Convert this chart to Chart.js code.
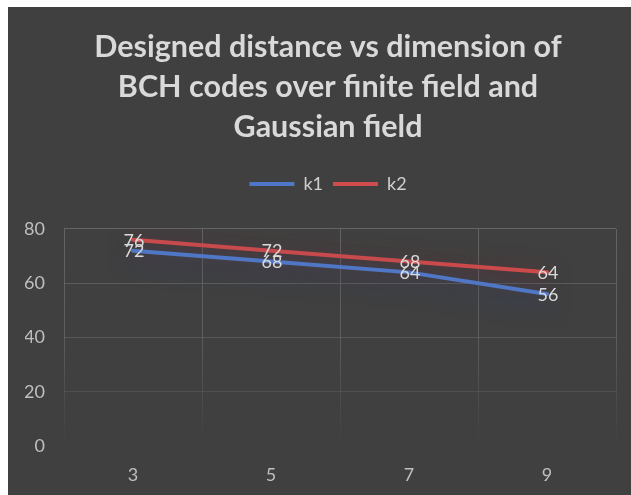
<!DOCTYPE html>
<html>
<head>
<meta charset="utf-8">
<script src="https://cdn.jsdelivr.net/npm/chart.js@4/dist/chart.umd.min.js"></script>
<style>
  body { margin: 0; background: #ffffff; }
  #box { position: absolute; left: 8px; top: 7px; width: 623px; height: 488px; background: #404040; }
</style>
</head>
<body>
<div id="box"><canvas id="myChart"></canvas></div>
<script>
// chart data
const categories = ['3', '5', '7', '9'];
const k1 = [72, 68, 64, 56];
const k2 = [76, 72, 68, 64];
const titleLines = ['Designed distance vs dimension of', 'BCH codes over finite field and', 'Gaussian field'];
const yTicks = [0, 20, 40, 60, 80];

const font = 'Lato';

// value labels drawn on each point
const valueLabels = {
    id: 'valueLabels',
    afterDatasetsDraw(chart) {
        const ctx = chart.ctx;
        ctx.save();
        ctx.font = '18px ' + font;
        ctx.fillStyle = '#d9d9d9';
        ctx.textAlign = 'center';
        ctx.textBaseline = 'middle';
        chart.data.datasets.forEach((ds, i) => {
            chart.getDatasetMeta(i).data.forEach((pt, j) => {
                ctx.fillText(ds.data[j], pt.x + 1, pt.y + 1);
            });
        });
        ctx.restore();
    }
};

// soft glow under the lines
const glow = {
    id: 'glow',
    beforeDatasetDraw(chart, args) {
        const ctx = chart.ctx;
        ctx.save();
        ctx.shadowColor = chart.data.datasets[args.index].glowColor;
        ctx.shadowBlur = 24;
        ctx.shadowOffsetY = 6;
    },
    afterDatasetDraw(chart) {
        chart.ctx.restore();
    }
};

// extra room under the legend
const legendSpace = {
    id: 'legendSpace',
    beforeInit(chart) {
        const fit = chart.legend.fit;
        chart.legend.fit = function () {
            fit.bind(chart.legend)();
            this.height += 26;
        };
    }
};

function fadeV(ctx) {
    const chart = ctx.chart;
    const area = chart.chartArea;
    if (!area) return '#555555';
    const g = chart.ctx.createLinearGradient(0, area.top, 0, area.bottom);
    g.addColorStop(0, 'rgba(100,100,100,1)');
    g.addColorStop(0.5, 'rgba(100,100,100,0.8)');
    g.addColorStop(1, 'rgba(100,100,100,0)');
    return g;
}

const myChart = new Chart(document.getElementById('myChart'), {
    type: 'line',
    data: {
        labels: categories,
        datasets: [{
            label: 'k1',
            data: k1,
            borderColor: '#5077c6',
            backgroundColor: '#5077c6',
            glowColor: 'rgba(40,70,130,0.9)',
            borderWidth: 4,
            borderCapStyle: 'round',
            pointRadius: 0,
            tension: 0
        }, {
            label: 'k2',
            data: k2,
            borderColor: '#d04b4b',
            backgroundColor: '#d04b4b',
            glowColor: 'rgba(130,40,40,0.9)',
            borderWidth: 4,
            borderCapStyle: 'round',
            pointRadius: 0,
            tension: 0
        }]
    },
    options: {
        responsive: true,
        maintainAspectRatio: false,
        animation: false,
        layout: { padding: { left: 17, right: 0, top: 0, bottom: 0 } },
        plugins: {
            title: {
                display: true,
                text: titleLines,
                color: '#d9d9d9',
                font: { family: font, size: 30.5, weight: 'bold', lineHeight: 1.311 },
                padding: { top: 20, bottom: 18 }
            },
            legend: {
                display: true,
                labels: {
                    color: '#cfcfcf',
                    font: { family: font, size: 18 },
                    usePointStyle: true,
                    pointStyle: 'line',
                    pointStyleWidth: 45,
                    padding: 10
                }
            },
            tooltip: { enabled: false }
        },
        scales: {
            x: {
                offset: true,
                afterFit(scale) { scale.height = 49; },
                grid: { offset: true, color: fadeV, lineWidth: 1, drawTicks: false },
                border: { display: false },
                ticks: { color: '#bfbfbf', font: { family: font, size: 18 }, padding: 18 }
            },
            y: {
                position: 'left',
                min: 0,
                max: 80,
                afterBuildTicks(scale) {
                    scale.ticks = yTicks.map(v => ({ value: v }));
                },
                afterFit(scale) { scale.width = 39; },
                grid: {
                    drawTicks: false,
                    color(ctx) {
                        const v = ctx.tick ? ctx.tick.value : 0;
                        const a = v === 0 ? 0 : 0.3 + 0.7 * v / 80;
                        return 'rgba(100,100,100,' + a + ')';
                    }
                },
                border: { display: false },
                ticks: { color: '#bfbfbf', font: { family: font, size: 18 }, padding: 19 }
            },
            // empty right axis, only keeps space on the right side
            yRight: {
                position: 'right',
                min: 0,
                max: 1,
                afterFit(scale) { scale.width = 15; },
                grid: { display: false },
                border: { display: false },
                ticks: { display: false }
            }
        }
    },
    plugins: [legendSpace, glow, valueLabels]
});
</script>
</body>
</html>
